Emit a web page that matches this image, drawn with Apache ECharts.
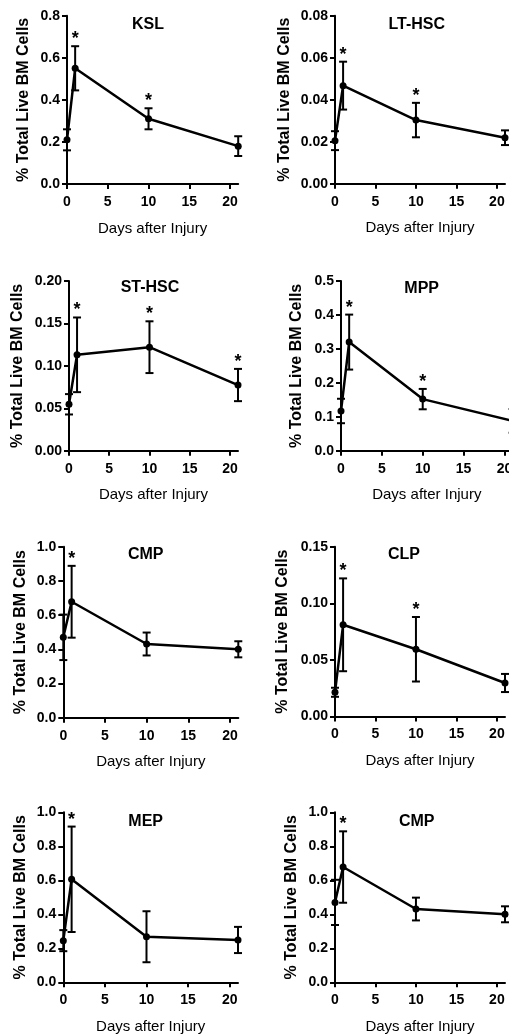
<!DOCTYPE html>
<html><head><meta charset="utf-8">
<script src="https://cdn.jsdelivr.net/npm/echarts@6/dist/echarts.min.js"></script>
<style>html,body{margin:0;padding:0;background:#fff}#c{width:509px;height:1034px}</style>
</head><body><div id="c"></div>
<script>
// ---- data ----
const days = [0, 1, 10, 21];
const xTicks = [0, 5, 10, 15, 20];
const panelTitles = ['KSL', 'LT-HSC', 'ST-HSC', 'MPP', 'CMP', 'CLP', 'MEP', 'CMP'];
const kslMean   = [0.21, 0.55, 0.31, 0.18];
const kslErr    = [0.05, 0.105, 0.05, 0.047];
const kslSig    = [0, 1, 1, 0];
const ltMean    = [0.0205, 0.0467, 0.0303, 0.0219];
const ltErr     = [0.0045, 0.0114, 0.0082, 0.0035];
const ltSig     = [0, 1, 1, 0];
const stMean    = [0.0547, 0.113, 0.122, 0.0774];
const stErr     = [0.012, 0.044, 0.0305, 0.019];
const stSig     = [0, 1, 1, 1];
const mppMean   = [0.117, 0.320, 0.152, 0.088];
const mppErr    = [0.036, 0.081, 0.030, 0.035];
const mppSig    = [0, 1, 1, 0];
const cmpMean   = [0.47, 0.678, 0.431, 0.40];
const cmpErr    = [0.133, 0.21, 0.067, 0.047];
const cmpSig    = [0, 1, 0, 0];
const clpMean   = [0.0214, 0.081, 0.0594, 0.0296];
const clpErr    = [0.004, 0.041, 0.0285, 0.008];
const clpSig    = [0, 1, 1, 0];
const mepMean   = [0.245, 0.606, 0.268, 0.249];
const mepErr    = [0.062, 0.31, 0.15, 0.077];
const mepSig    = [0, 1, 0, 0];
const yMaxes    = [0.8, 0.08, 0.2, 0.5, 1.0, 0.15, 1.0, 1.0];
const ySteps    = [0.2, 0.02, 0.05, 0.1, 0.2, 0.05, 0.2, 0.2];
const yDecimals = [1, 2, 2, 1, 1, 2, 1, 1];
const yTitle = '% Total Live BM Cells';
const xTitle = 'Days after Injury';

const means = [kslMean, ltMean, stMean, mppMean, cmpMean, clpMean, mepMean, cmpMean];
const errs  = [kslErr, ltErr, stErr, mppErr, cmpErr, clpErr, mepErr, cmpErr];
const sigs  = [kslSig, ltSig, stSig, mppSig, cmpSig, clpSig, mepSig, cmpSig];

// ---- layout (pixels) ----
const layout = [
  {l: 67,   r: 238.2, t: 15.7,  b: 184,   yGap: 35, tx: 148,   ty: 17},
  {l: 335,  r: 505,   t: 15.7,  b: 183.7, yGap: 42, tx: 416.7, ty: 17},
  {l: 69,   r: 238,   t: 281,   b: 450.7, yGap: 43, tx: 150,   ty: 280},
  {l: 341,  r: 512.6, t: 281,   b: 450.7, yGap: 36, tx: 421.7, ty: 281},
  {l: 63.3, r: 238.3, t: 546.7, b: 717.7, yGap: 35, tx: 145.7, ty: 547},
  {l: 335,  r: 505,   t: 546.7, b: 716.5, yGap: 44, tx: 404,   ty: 547},
  {l: 63.3, r: 238,   t: 812.3, b: 982.3, yGap: 35, tx: 145.7, ty: 814},
  {l: 335,  r: 505,   t: 812.3, b: 982.3, yGap: 35, tx: 416.7, ty: 814}
];

const FONT = 'Liberation Sans, Arial, Helvetica, sans-serif';
const grids = [], xAxes = [], yAxes = [], series = [], titles = [];

function errRender(params, api) {
  const x = api.value(0), m = api.value(1), e = api.value(2);
  const hi = api.coord([x, m + e]), lo = api.coord([x, m - e]);
  const hw = 4;
  const st = {stroke: '#000', lineWidth: 2};
  return {type: 'group', children: [
    {type: 'line', shape: {x1: hi[0], y1: hi[1], x2: lo[0], y2: lo[1]}, style: st},
    {type: 'line', shape: {x1: hi[0] - hw, y1: hi[1], x2: hi[0] + hw, y2: hi[1]}, style: st},
    {type: 'line', shape: {x1: lo[0] - hw, y1: lo[1], x2: lo[0] + hw, y2: lo[1]}, style: st}
  ]};
}
function starRender(params, api) {
  const p = api.coord([api.value(0), api.value(1)]);
  return {type: 'text', x: p[0], y: p[1] - 7,
    style: {text: '*', fill: '#000', font: 'bold 18px ' + FONT, textAlign: 'center', textVerticalAlign: 'middle'}};
}

for (let i = 0; i < 8; i++) {
  const L = layout[i];
  grids.push({left: L.l, top: L.t, width: L.r - L.l, height: L.b - L.t, containLabel: false, outerBoundsMode: 'none'});
  titles.push({text: panelTitles[i], left: L.tx, top: L.ty, textAlign: 'center', padding: 0,
    textStyle: {fontFamily: FONT, fontSize: 16, fontWeight: 'bold', color: '#000'}});
  xAxes.push({
    gridIndex: i, type: 'value', min: 0, max: 21, interval: 5,
    name: xTitle, nameLocation: 'middle', nameGap: 37,
    nameTextStyle: {fontFamily: FONT, fontSize: 15, color: '#000'},
    axisLine: {show: true, onZero: false, lineStyle: {color: '#000', width: 2}},
    axisTick: {show: true, inside: false, length: 5, lineStyle: {color: '#000', width: 2}, customValues: xTicks},
    axisLabel: {show: true, margin: 11, fontFamily: FONT, fontSize: 14, fontWeight: 'bold', color: '#000',
      customValues: xTicks, formatter: v => (xTicks.indexOf(v) >= 0 ? String(v) : '')},
    splitLine: {show: false}
  });
  const dec = yDecimals[i];
  yAxes.push({
    gridIndex: i, type: 'value', min: 0, max: yMaxes[i], interval: ySteps[i],
    name: yTitle, nameLocation: 'middle', nameGap: L.yGap,
    nameTextStyle: {fontFamily: FONT, fontSize: 16, fontWeight: 'bold', color: '#000'},
    axisLine: {show: true, onZero: false, lineStyle: {color: '#000', width: 2}},
    axisTick: {show: true, inside: false, length: 5, lineStyle: {color: '#000', width: 2}},
    axisLabel: {show: true, margin: 7, fontFamily: FONT, fontSize: 14, fontWeight: 'bold', color: '#000',
      formatter: v => Number(v).toFixed(dec)},
    splitLine: {show: false}
  });
  const m = means[i], e = errs[i], s = sigs[i];
  series.push({
    type: 'custom', xAxisIndex: i, yAxisIndex: i, renderItem: errRender, silent: true,
    data: days.map((d, k) => [d, m[k], e[k]]), encode: {x: 0, y: 1}, z: 2
  });
  series.push({
    type: 'line', xAxisIndex: i, yAxisIndex: i, silent: true, animation: false,
    data: days.map((d, k) => [d, m[k]]),
    symbol: 'circle', symbolSize: 7, showSymbol: true,
    lineStyle: {color: '#000', width: 2.5}, itemStyle: {color: '#000'}, z: 3
  });
  series.push({
    type: 'custom', xAxisIndex: i, yAxisIndex: i, renderItem: starRender, silent: true,
    data: days.map((d, k) => [d, m[k] + e[k], s[k]]).filter(r => r[2] === 1), encode: {x: 0, y: 1}, z: 4
  });
}

const chart = echarts.init(document.getElementById('c'), null, {renderer: 'canvas'});
chart.setOption({
  animation: false,
  backgroundColor: '#fff',
  title: titles,
  grid: grids,
  xAxis: xAxes,
  yAxis: yAxes,
  series: series
});
</script>
</body></html>
